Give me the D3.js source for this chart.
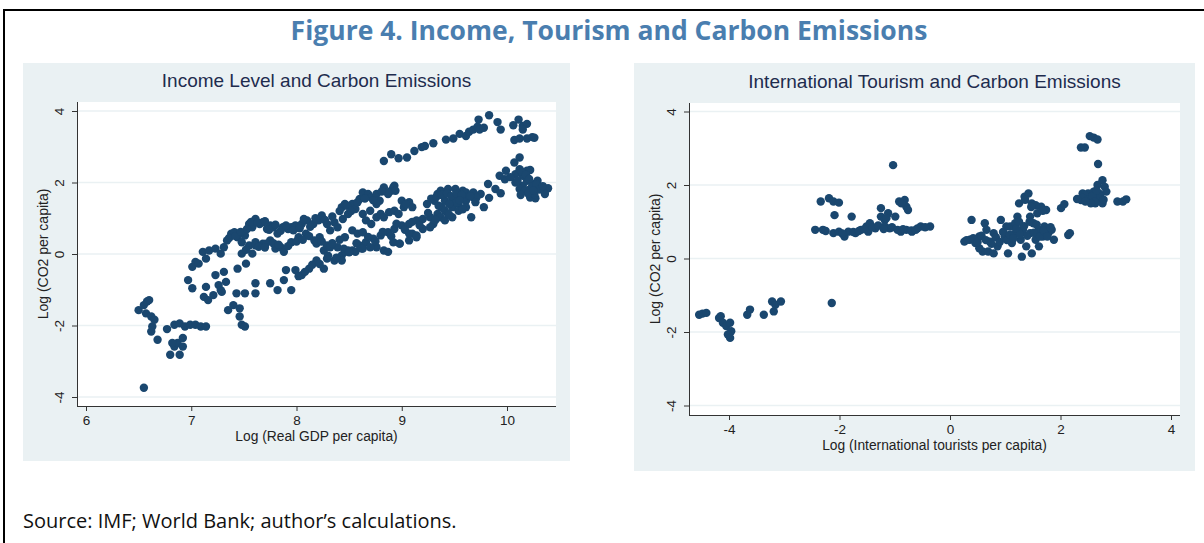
<!DOCTYPE html>
<html>
<head>
<meta charset="utf-8">
<script src="https://cdn.jsdelivr.net/npm/d3@7"></script>
<style>
  body { margin: 0; background: #fff; }
  svg { display: block; }
  .tick text { font-family: "Liberation Sans", Arial, sans-serif; font-size: 13.5px; fill: #222; }
  .axis path, .axis line { stroke: #333; }
</style>
</head>
<body>
<div id="chart"></div>
<script>
// ---- data ----
const figureTitle = "Figure 4. Income, Tourism and Carbon Emissions";
const sourceNote = "Source: IMF; World Bank; author\u2019s calculations.";
const yTicks = [-4, -2, 0, 2, 4];
const incomeTicks = [6, 7, 8, 9, 10];
const tourismTicks = [-4, -2, 0, 2, 4];

// Log (Real GDP per capita) vs Log (CO2 per capita)
const incomeX = [
  8.83,8.90,8.97,9.05,9.12,9.19,9.22,9.30,9.42,9.49,9.55,9.61,9.64,9.68,9.72,9.74,9.78,9.73,9.83,9.91,9.94,10.06,10.11,10.15,10.19,10.07,10.12,10.19,10.24,10.26,10.15,
  9.98,9.99,10.07,10.12,10.08,10.12,10.15,10.19,10.22,10.08,10.15,10.19,10.22,10.26,10.29,10.32,10.36,10.39,10.22,10.27,10.12,10.17,10.26,10.36,9.93,9.82,9.89,9.94,9.83,9.78,9.66,
  7.61,7.75,7.82,7.88,7.95,7.90,7.99,8.05,8.12,8.19,8.26,8.29,8.36,8.43,8.46,8.53,8.60,8.66,8.73,8.80,8.87,8.93,9.00,9.07,9.14,9.20,9.27,9.34,9.41,9.48,9.54,9.61,9.68,9.75,
  9.37,9.44,9.51,9.58,9.61,9.34,9.31,9.24,9.41,9.48,9.54,9.64,9.68,9.71,9.44,9.37,9.30,9.27,9.20,9.10,9.14,9.07,8.98,9.54,9.61,9.48,9.41,
  6.97,7.01,7.01,7.04,7.07,7.11,7.14,7.17,7.23,7.28,7.31,7.34,7.38,7.41,7.44,7.48,7.51,7.55,7.58,7.61,7.65,7.68,7.72,7.75,7.78,7.82,7.87,7.92,7.95,7.99,8.05,8.10,8.16,8.21,8.24,8.29,8.32,8.36,8.39,8.43,8.46,8.53,8.60,8.63,8.68,8.71,8.76,8.83,8.87,8.90,8.93,8.79,8.76,8.70,8.63,8.56,8.49,8.44,
  7.48,7.55,7.61,7.68,7.75,7.80,7.85,7.88,7.95,8.02,8.09,7.58,7.61,7.71,
  8.19,8.22,8.26,8.29,8.32,8.39,8.43,8.46,8.53,8.58,8.63,8.66,8.71,8.76,8.80,8.83,8.88,8.93,8.97,9.02,9.07,9.10,8.76,8.83,8.87,8.92,8.98,9.07,9.14,8.70,8.63,8.56,8.49,
  7.14,7.12,7.16,7.21,7.23,7.26,7.28,7.29,7.31,7.33,7.35,7.40,7.43,7.44,7.46,7.46,7.48,7.51,7.52,7.51,7.61,
  6.50,6.55,6.58,6.60,6.57,6.62,6.65,6.62,6.63,6.68,6.77,6.84,6.89,6.94,6.99,7.04,7.09,7.14,6.80,6.89,6.84,6.87,6.92,6.92,6.82,6.55,
  8.92,8.94,8.87,9.00,9.04,
  8.02,8.08,8.15,8.22,8.30,8.38,8.45,8.50,8.57,8.62,8.68,8.75,8.82,8.90,8.95,9.03,9.10,9.17,9.25,9.32,9.38,9.45,9.52,9.58,9.65,9.70,
  7.36,7.42,7.47,7.53,7.57,7.63,7.70,7.74,7.80,7.85,7.90,7.97,8.03,8.07,8.13,8.18,8.27,8.34,8.41,8.48,8.52,8.58,8.65,8.73,8.81,
  7.52,7.64,7.70,7.78,7.83,7.92,8.00,8.06,8.12,8.17,8.24,8.34,8.41,
  10.03,10.10,10.14,10.18,10.21,10.24,10.28,10.31,10.34,10.20,10.25,10.13,
  9.28,9.33,9.38,9.43,9.47,9.52,9.57,9.35,9.45,9.55
];
const incomeY = [
  2.60,2.79,2.68,2.70,2.88,2.99,3.02,3.10,3.20,3.23,3.36,3.30,3.42,3.48,3.56,3.48,3.53,3.76,3.88,3.69,3.48,3.60,3.76,3.58,3.64,3.19,3.23,3.23,3.27,3.25,3.48,
  2.09,2.33,2.56,2.70,2.23,2.37,2.19,2.33,2.35,2.00,1.91,2.05,1.82,1.96,2.05,1.86,1.77,1.84,1.58,1.56,1.82,1.77,1.68,1.68,2.19,1.96,1.82,1.70,1.57,1.31,1.03,
  -1.10,-0.82,-1.01,-0.73,-1.01,-0.45,-0.45,-0.59,-0.41,-0.18,-0.41,-0.13,-0.18,-0.04,0.06,0.10,0.24,0.33,0.43,0.52,0.61,0.70,0.80,0.84,0.94,0.98,1.03,1.12,1.21,1.31,1.40,1.49,1.58,1.68,
  1.77,1.82,1.82,1.77,1.72,1.68,1.49,1.40,1.49,1.49,1.58,1.63,1.72,1.58,1.12,1.03,0.84,0.75,0.70,0.57,0.47,0.38,0.29,1.21,1.31,1.03,0.94,
  -0.73,-0.96,-0.36,-0.22,-0.27,0.06,-0.13,0.10,0.15,0.01,0.19,0.38,0.57,0.61,0.47,0.33,0.52,0.84,0.75,0.98,0.84,0.89,0.70,0.80,0.75,0.57,0.75,0.70,0.75,0.80,0.84,0.94,0.84,0.94,1.08,0.84,0.66,0.89,0.75,1.31,1.40,1.40,1.54,1.72,1.68,1.58,1.68,1.86,1.68,1.77,1.91,1.49,1.40,1.21,1.12,1.26,1.12,0.98,
  0.01,0.24,0.33,0.29,0.38,0.15,0.19,0.06,0.33,0.47,0.57,0.01,0.24,0.29,
  0.29,0.47,0.10,0.24,0.19,0.19,-0.18,0.47,0.66,0.57,0.61,0.94,0.84,1.03,1.12,1.03,1.17,1.21,1.12,1.31,1.45,1.31,0.19,0.10,0.06,0.33,0.29,0.57,0.52,0.19,0.15,0.06,0.10,
  -0.92,-1.20,-1.29,-1.15,-0.59,-0.87,-1.01,-1.06,-0.50,-0.78,-1.57,-1.43,-1.10,-0.41,-1.52,-1.75,-1.98,-2.03,-0.27,-1.10,-0.82,
  -1.57,-1.43,-1.33,-1.29,-1.66,-1.75,-1.84,-2.17,-2.03,-2.40,-2.10,-1.98,-1.94,-2.03,-1.98,-1.98,-2.03,-2.03,-2.82,-2.82,-2.59,-2.49,-2.59,-2.35,-2.49,-3.74,
  1.86,1.77,1.72,1.49,1.40,
  -0.62,-0.50,-0.30,-0.28,-0.05,-0.10,0.15,0.05,0.30,0.15,0.48,0.35,0.62,0.50,0.85,0.68,0.90,0.80,1.15,0.95,1.30,1.10,1.45,1.25,1.62,1.45,
  0.45,0.50,0.62,0.70,0.90,0.88,0.92,0.68,0.82,0.65,0.80,0.66,0.72,0.98,0.76,1.00,0.95,1.05,1.20,1.35,1.20,1.45,1.55,1.50,1.75,
  0.12,0.20,0.18,0.30,0.26,0.22,0.35,0.40,0.50,0.38,0.35,0.30,0.40,
  2.15,2.05,2.30,2.22,2.10,1.90,1.95,1.80,1.90,1.70,1.78,1.65,
  1.55,1.60,1.65,1.70,1.62,1.70,1.65,1.35,1.40,1.50
];

// Log (International tourists per capita) vs Log (CO2 per capita)
const tourismX = [
  -4.54,-4.48,-4.41,-4.18,-4.15,-4.11,-4.05,-3.98,-3.96,-3.98,-4.02,-3.67,-3.62,-3.37,-3.19,-3.22,-3.16,-3.06,-2.14,
  -2.44,-2.30,-2.34,-2.19,-2.11,-2.01,-2.09,-2.11,-2.01,-1.91,-1.84,-1.78,-1.71,-1.61,-1.51,-1.48,-1.45,-1.35,-1.25,-1.25,-1.18,-1.12,-1.18,-1.09,-1.03,-0.99,-0.92,-0.89,-0.82,-0.79,-0.76,-0.79,-0.69,-0.59,-0.53,-0.36,
  0.26,0.36,0.39,0.46,0.53,0.59,0.63,0.66,0.69,0.72,0.79,0.86,0.92,0.99,1.05,1.09,1.12,1.18,1.22,1.25,1.28,1.30,1.32,1.35,1.38,1.42,1.45,1.48,1.48,1.51,1.55,1.58,1.61,1.65,1.68,1.71,1.74,1.78,1.84,1.88,1.61,1.45,1.18,1.02,0.53,0.79,
  2.01,2.07,2.14,2.17,
  2.37,2.44,2.53,2.60,2.67,2.68,2.37,2.40,2.47,2.50,2.57,2.60,2.63,2.67,2.70,2.73,2.76,2.80,2.83,2.76,3.03,3.13,3.19,2.53,2.44,2.67,
  0.30,0.42,0.50,0.57,0.65,0.75,0.83,0.90,0.96,1.03,1.08,1.15,1.20,1.27,1.34,1.40,1.44,1.52,1.57,1.63,1.70,1.76,1.82,1.36,1.55,1.47,1.68,1.25,
  -2.25,-1.95,-1.75,-1.65,-1.55,-1.40,-1.30,-1.20,-1.05,-0.95,-0.85,-0.70,-0.62,-0.45,-1.15,-0.88,
  2.40,2.50,2.58,2.62,2.72,2.78,2.55,2.65,2.45,2.30
];
const tourismY = [
  -1.53,-1.50,-1.48,-1.62,-1.57,-1.75,-1.84,-1.75,-1.98,-2.16,-2.07,-1.53,-1.39,-1.53,-1.44,-1.17,-1.26,-1.17,-1.21,
  0.78,0.78,1.55,1.64,1.55,1.52,1.18,0.69,0.73,0.60,0.73,1.14,0.69,0.78,0.87,0.73,0.96,0.82,1.37,1.14,1.05,1.23,0.87,0.82,2.54,1.14,1.55,0.73,1.59,1.41,1.32,0.78,0.73,0.82,0.87,0.87,
  0.46,0.51,1.05,0.42,0.60,0.19,0.96,0.78,0.19,0.46,0.69,0.33,1.05,0.60,0.14,0.87,0.42,0.69,1.14,1.50,0.51,0.05,0.78,1.68,0.33,1.77,0.69,0.14,1.50,0.96,0.51,1.23,0.78,1.41,0.60,0.87,1.32,0.69,0.78,0.51,0.33,1.14,0.96,0.87,0.28,0.14,
  1.37,1.48,0.64,0.69,
  3.02,3.02,3.33,3.29,3.24,2.57,1.59,1.77,1.59,1.77,1.64,1.82,1.50,2.00,1.77,1.59,2.13,1.95,1.82,1.50,1.55,1.55,1.61,1.55,1.73,1.68,
  0.50,0.55,0.45,0.62,0.50,0.40,0.58,0.45,0.72,0.50,0.65,0.55,0.82,0.65,0.88,0.62,1.00,0.70,0.92,0.60,0.75,0.60,0.85,1.60,1.45,1.40,1.30,1.00,
  0.75,0.68,0.72,0.75,0.80,0.85,0.90,0.80,0.85,0.78,0.80,0.76,0.78,0.85,1.10,1.50,
  1.65,1.60,1.70,1.55,1.70,1.60,1.50,1.85,1.55,1.62
];

// ---- layout ----
const W = 1204, H = 543;
const MARKER = "#1a476f";
const panels = [
  { title: "Income Level and Carbon Emissions", xLabel: "Log (Real GDP per capita)",
    xs: incomeX, ys: incomeY, xTicks: incomeTicks,
    bg: { x: 23, y: 63, w: 547, h: 398 },
    plot: { left: 77, right: 556, top: 102, bottom: 406 },
    xDom: [6, 10], xRange: [86, 507], yRange: [397, 111] },
  { title: "International Tourism and Carbon Emissions", xLabel: "Log (International tourists per capita)",
    xs: tourismX, ys: tourismY, xTicks: tourismTicks,
    bg: { x: 634, y: 63, w: 561, h: 408 },
    plot: { left: 689, right: 1180, top: 103, bottom: 415 },
    xDom: [-4, 4], xRange: [729, 1171], yRange: [405.5, 111.5] }
];

// plain hyphen for negatives, like the source
var fmt = function(d){ return String(d); };

const svg = d3.select("#chart").append("svg")
  .attr("width", W).attr("height", H);

// page frame (top and left rule)
svg.append("path")
  .attr("d", "M4,600 L4,10 L1210,10")
  .attr("fill", "none").attr("stroke", "#000").attr("stroke-width", 2);

svg.append("text")
  .attr("x", 609).attr("y", 40)
  .attr("text-anchor", "middle")
  .style("font-family", "'Open Sans', 'Noto Sans', sans-serif")
  .style("font-weight", "bold").style("font-size", "26.5px")
  .style("fill", "#4a7eaf")
  .text(figureTitle);

svg.append("text")
  .attr("x", 23).attr("y", 528)
  .style("font-family", "'Open Sans', 'Noto Sans', sans-serif")
  .style("font-size", "20px").style("fill", "#111")
  .text(sourceNote);

panels.forEach(function(p){
  var g = svg.append("g");
  var x = d3.scaleLinear().domain(p.xDom).range(p.xRange);
  var y = d3.scaleLinear().domain([-4, 4]).range(p.yRange);
  var pw = p.plot.right - p.plot.left, ph = p.plot.bottom - p.plot.top;
  var cx = (p.plot.left + p.plot.right) / 2;

  g.append("rect")
    .attr("x", p.bg.x).attr("y", p.bg.y).attr("width", p.bg.w).attr("height", p.bg.h)
    .attr("fill", "#eaf1f3");
  g.append("rect")
    .attr("x", p.plot.left).attr("y", p.plot.top).attr("width", pw).attr("height", ph)
    .attr("fill", "#fff");

  // horizontal grid
  g.selectAll("line.grid").data(yTicks).enter()
    .append("line").attr("class", "grid")
    .attr("x1", p.plot.left).attr("x2", p.plot.right)
    .attr("y1", function(d){ return y(d); }).attr("y2", function(d){ return y(d); })
    .attr("stroke", "#eaf1f3").attr("stroke-width", 1.6);

  // points
  g.append("g").selectAll("circle")
    .data(p.xs.map(function(v, i){ return [v, p.ys[i]]; }))
    .enter().append("circle")
    .attr("cx", function(d){ return x(d[0]); })
    .attr("cy", function(d){ return y(d[1]); })
    .attr("r", 4.2)
    .attr("fill", MARKER);

  // axes
  var xa = g.append("g").attr("class", "axis")
    .attr("transform", "translate(0," + p.plot.bottom + ")")
    .call(d3.axisBottom(x).tickValues(p.xTicks).tickFormat(fmt).tickSize(5).tickSizeOuter(0));
  xa.select(".domain").attr("d", "M" + p.plot.left + ",0.5H" + p.plot.right);
  xa.selectAll(".tick text").attr("dy", "0.85em");

  var ya = g.append("g").attr("class", "axis")
    .attr("transform", "translate(" + p.plot.left + ",0)")
    .call(d3.axisLeft(y).tickValues(yTicks).tickFormat(fmt).tickSize(5).tickSizeOuter(0));
  ya.select(".domain").attr("d", "M0.5," + p.plot.top + "V" + p.plot.bottom);
  ya.selectAll(".tick text")
    .attr("x", null).attr("dy", null)
    .attr("text-anchor", "middle")
    .attr("transform", "translate(-13,0) rotate(-90)");

  g.append("text")
    .attr("x", cx).attr("y", p.plot.top - 15)
    .attr("text-anchor", "middle")
    .style("font-family", "'Liberation Sans', Arial, sans-serif")
    .style("font-size", "19px").style("fill", "#1e2c4e")
    .text(p.title);

  g.append("text")
    .attr("x", cx).attr("y", p.plot.bottom + 35)
    .attr("text-anchor", "middle")
    .style("font-family", "'Liberation Sans', Arial, sans-serif")
    .style("font-size", "13.8px").style("fill", "#222")
    .text(p.xLabel);

  g.append("text")
    .attr("transform", "translate(" + (p.plot.left - 29) + "," + ((p.plot.top + p.plot.bottom) / 2) + ") rotate(-90)")
    .attr("text-anchor", "middle")
    .style("font-family", "'Liberation Sans', Arial, sans-serif")
    .style("font-size", "14px").style("fill", "#222")
    .text("Log (CO2 per capita)");
});
</script>
</body>
</html>
